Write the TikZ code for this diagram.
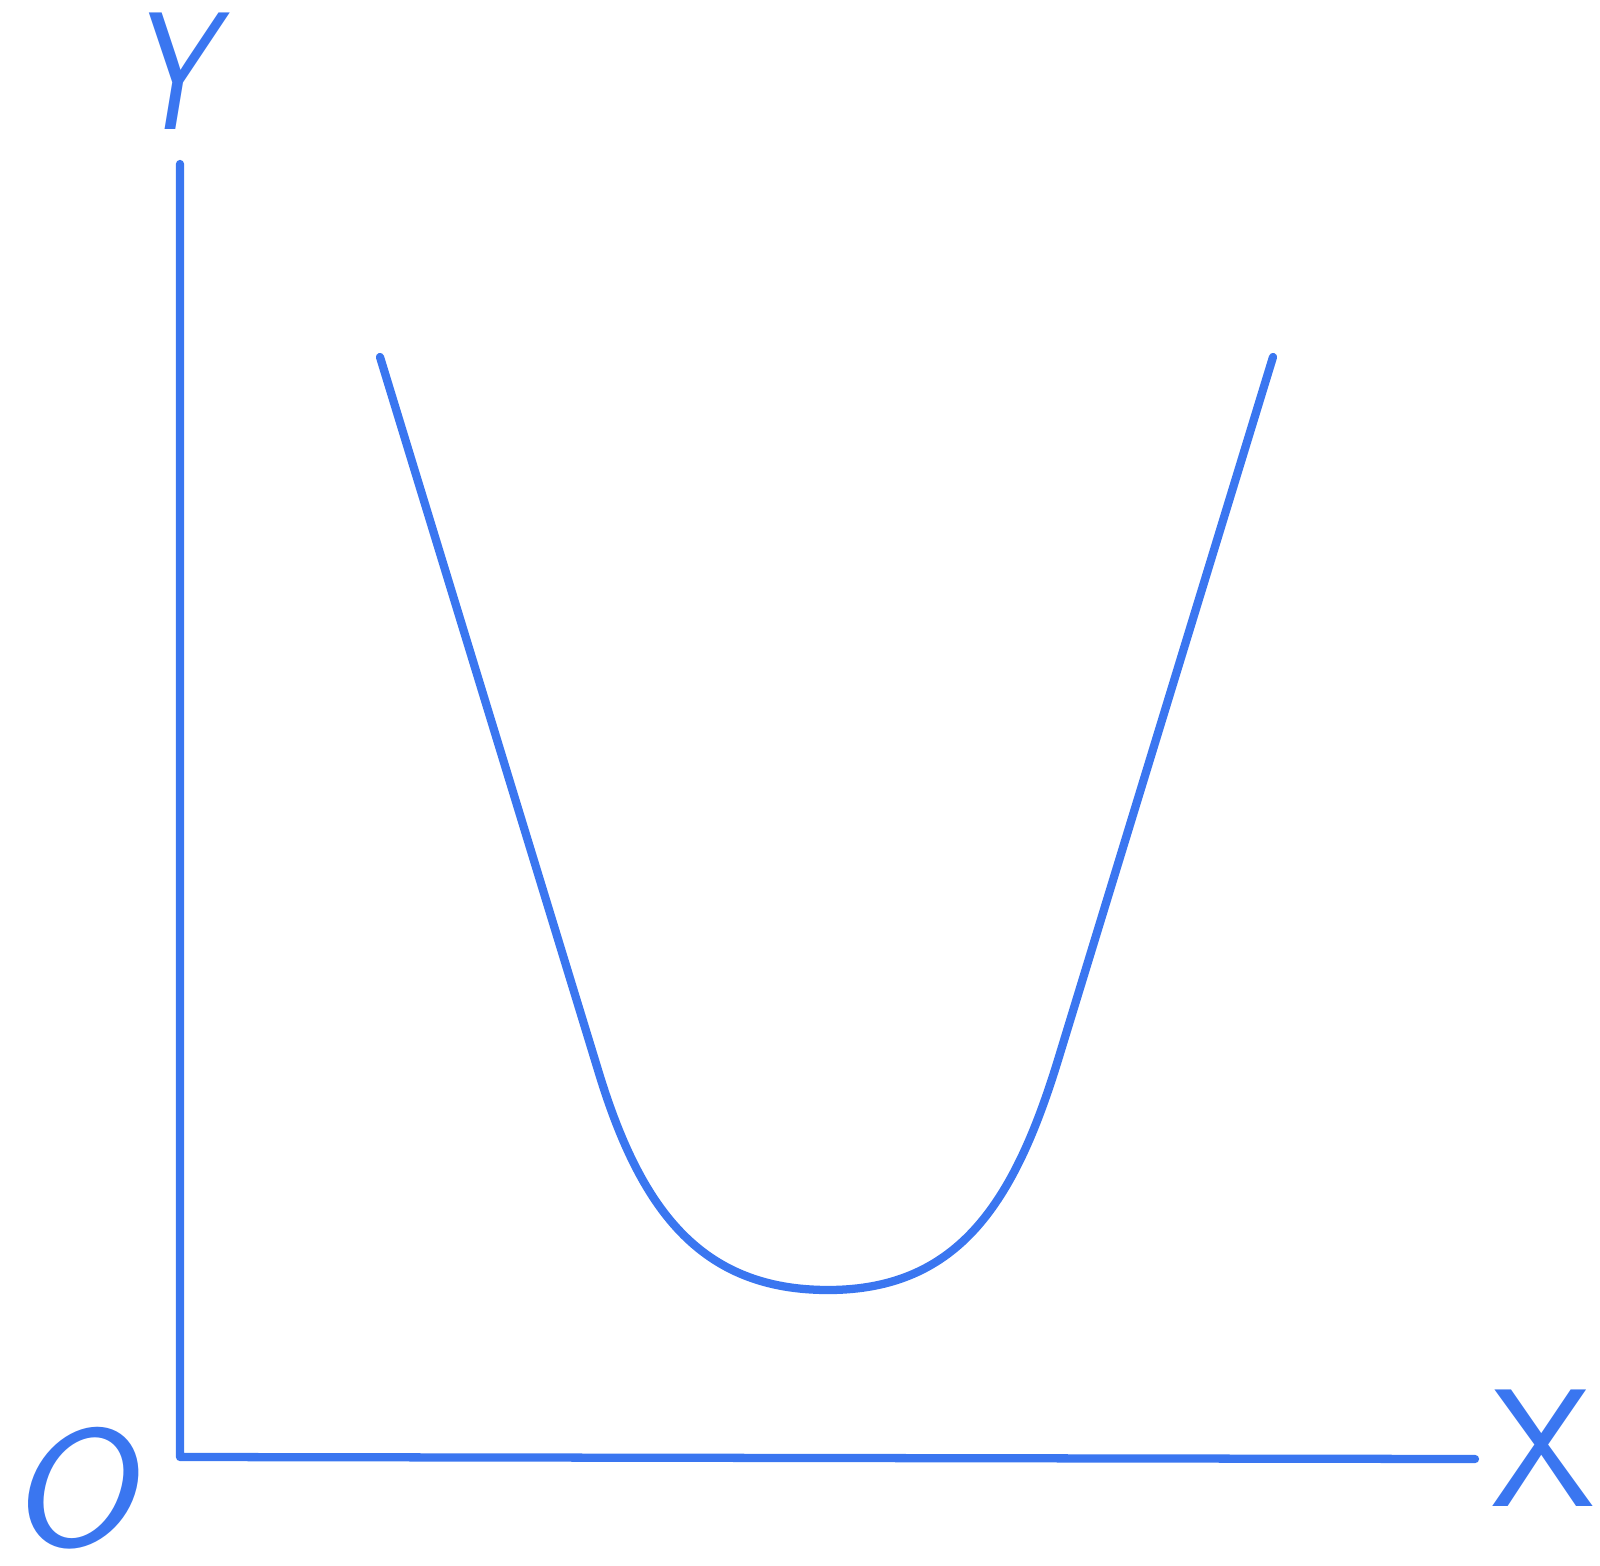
\documentclass[tikz,border=0pt]{standalone}
\usetikzlibrary{positioning}
\definecolor{penblue}{RGB}{58,118,240}
\tikzset{every picture/.style={line width=0.75pt}}
\tikzset{pen/.style={draw=penblue,line width=6.2pt,line cap=round,line join=round},
         hand/.style={text=penblue,inner sep=0pt,anchor=center,font=\fontsize{126}{126}\selectfont\sffamily}}

\begin{document}
\begin{tikzpicture}[x=0.75pt,y=0.75pt,yscale=-1,xscale=1]
%set diagram left start at 0, and has height of 1566
\useasboundingbox (0,0) rectangle (1600,1566);

%Shape: Axis 2D
\coordinate (origin) at (180,1457);
\coordinate (ytop) at (180,164);
\coordinate (xend) at (1475,1459);
\draw [pen]  (ytop) -- (origin) -- (xend) ;

%Curve Lines
\draw [pen]  (380,357) -- (598,1070) .. controls (640,1209) and (700,1290) .. (828,1290) .. controls (960,1290) and (1015,1200) .. (1058,1060) -- (1273,357) ;

% Text Node
\node [hand,xscale=0.78] (ylabel) at (170,71) {\itshape Y};
% Text Node
\node [hand] (xlabel) at (1543,1448) {X};
% Text Node
\node [hand,xscale=1.08] (olabel) at (70,1488) {\itshape O};

\end{tikzpicture}
\end{document}
